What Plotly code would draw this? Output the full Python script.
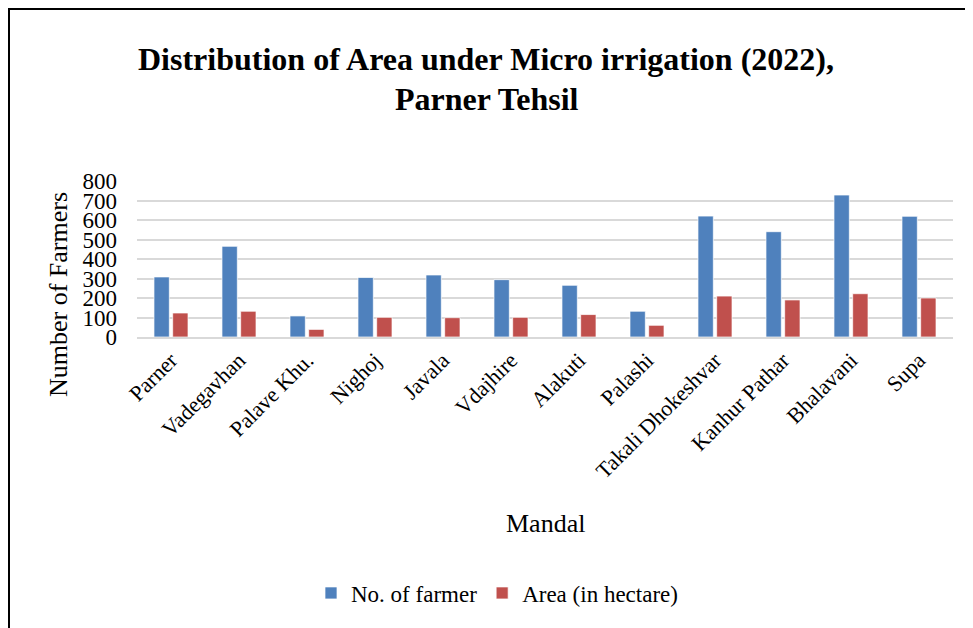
import plotly.graph_objects as go

mandals = ["Parner", "Vadegavhan", "Palave Khu.", "Nighoj", "Javala", "Vdajhire",
           "Alakuti", "Palashi", "Takali Dhokeshvar", "Kanhur Pathar", "Bhalavani", "Supa"]
farmers = [308, 465, 108, 305, 318, 294, 265, 132, 620, 540, 728, 619]
area = [123, 132, 39, 101, 99, 101, 115, 60, 210, 190, 222, 200]
y_ticks = [0, 100, 200, 300, 400, 500, 600, 700, 800]

# page has an 8px body margin; figure sized so it fits the 973x628 window
OFF = 8
W, H = 973 - OFF, 628 - OFF
# plot area in reference (window) pixels
PX0, PX1, PY0, PY1 = 137, 953, 181, 337
L, R = PX0 - OFF, W - (PX1 - OFF)
T, B = PY0 - OFF, H - (PY1 - OFF)
pw, ph = W - L - R, H - T - B

def px(x):  # reference window x -> paper
    return (x - OFF - L) / pw

def py(y):  # reference window y -> paper
    return (H - B - (y - OFF)) / ph

FONT = "Liberation Serif"

fig = go.Figure()
fig.add_trace(go.Bar(x=mandals, y=farmers, name="No. of farmer",
                     marker=dict(color="#4F81BD", line=dict(color="rgba(255,255,255,0.7)", width=1))))
fig.add_trace(go.Bar(x=mandals, y=area, name="Area (in hectare)",
                     marker=dict(color="#C0504D", line=dict(color="rgba(255,255,255,0.7)", width=1))))

fig.update_layout(
    width=W, height=H,
    margin=dict(l=L, r=R, t=T, b=B),
    paper_bgcolor="white", plot_bgcolor="white",
    font=dict(family=FONT, color="black"),
    barmode="group", bargap=0.45, bargroupgap=0.18,
    showlegend=True,
    legend=dict(orientation="h", x=px(497), xanchor="center", y=py(593), yanchor="middle",
                font=dict(size=23, family=FONT), itemwidth=30, traceorder="normal"),
    xaxis=dict(tickangle=-45, tickfont=dict(size=22, family=FONT), showgrid=False,
               showline=True, linecolor="#D9D9D9", linewidth=1.5, ticks=""),
    yaxis=dict(range=[0, 800], tickvals=y_ticks, tickfont=dict(size=23, family=FONT),
               showgrid=True, gridcolor="#D9D9D9", gridwidth=1.5, zeroline=False,
               ticks="", ticklabelstandoff=19, showline=False),
    annotations=[
        dict(text="<b>Distribution of Area under Micro irrigation (2022),</b>", showarrow=False,
             xref="paper", yref="paper", x=px(486), y=py(59), xanchor="center", yanchor="middle",
             font=dict(size=32, family=FONT)),
        dict(text="<b>Parner Tehsil</b>", showarrow=False,
             xref="paper", yref="paper", x=px(487), y=py(99), xanchor="center", yanchor="middle",
             font=dict(size=32, family=FONT)),
        dict(text="Number of Farmers", textangle=-90, showarrow=False,
             xref="paper", yref="paper", x=px(58), y=py(295),
             xanchor="center", yanchor="middle", font=dict(size=26, family=FONT)),
        dict(text="Mandal", showarrow=False, xref="paper", yref="paper",
             x=px(545), y=py(523), xanchor="center", yanchor="middle",
             font=dict(size=26, family=FONT)),
    ],
    shapes=[
        dict(type="line", xref="paper", yref="paper", x0=px(8), x1=px(973), y0=py(9), y1=py(9),
             line=dict(color="black", width=2)),
        dict(type="line", xref="paper", yref="paper", x0=px(9), x1=px(9), y0=py(8), y1=py(628),
             line=dict(color="black", width=2)),
    ],
)

fig.write_html("out.html")
